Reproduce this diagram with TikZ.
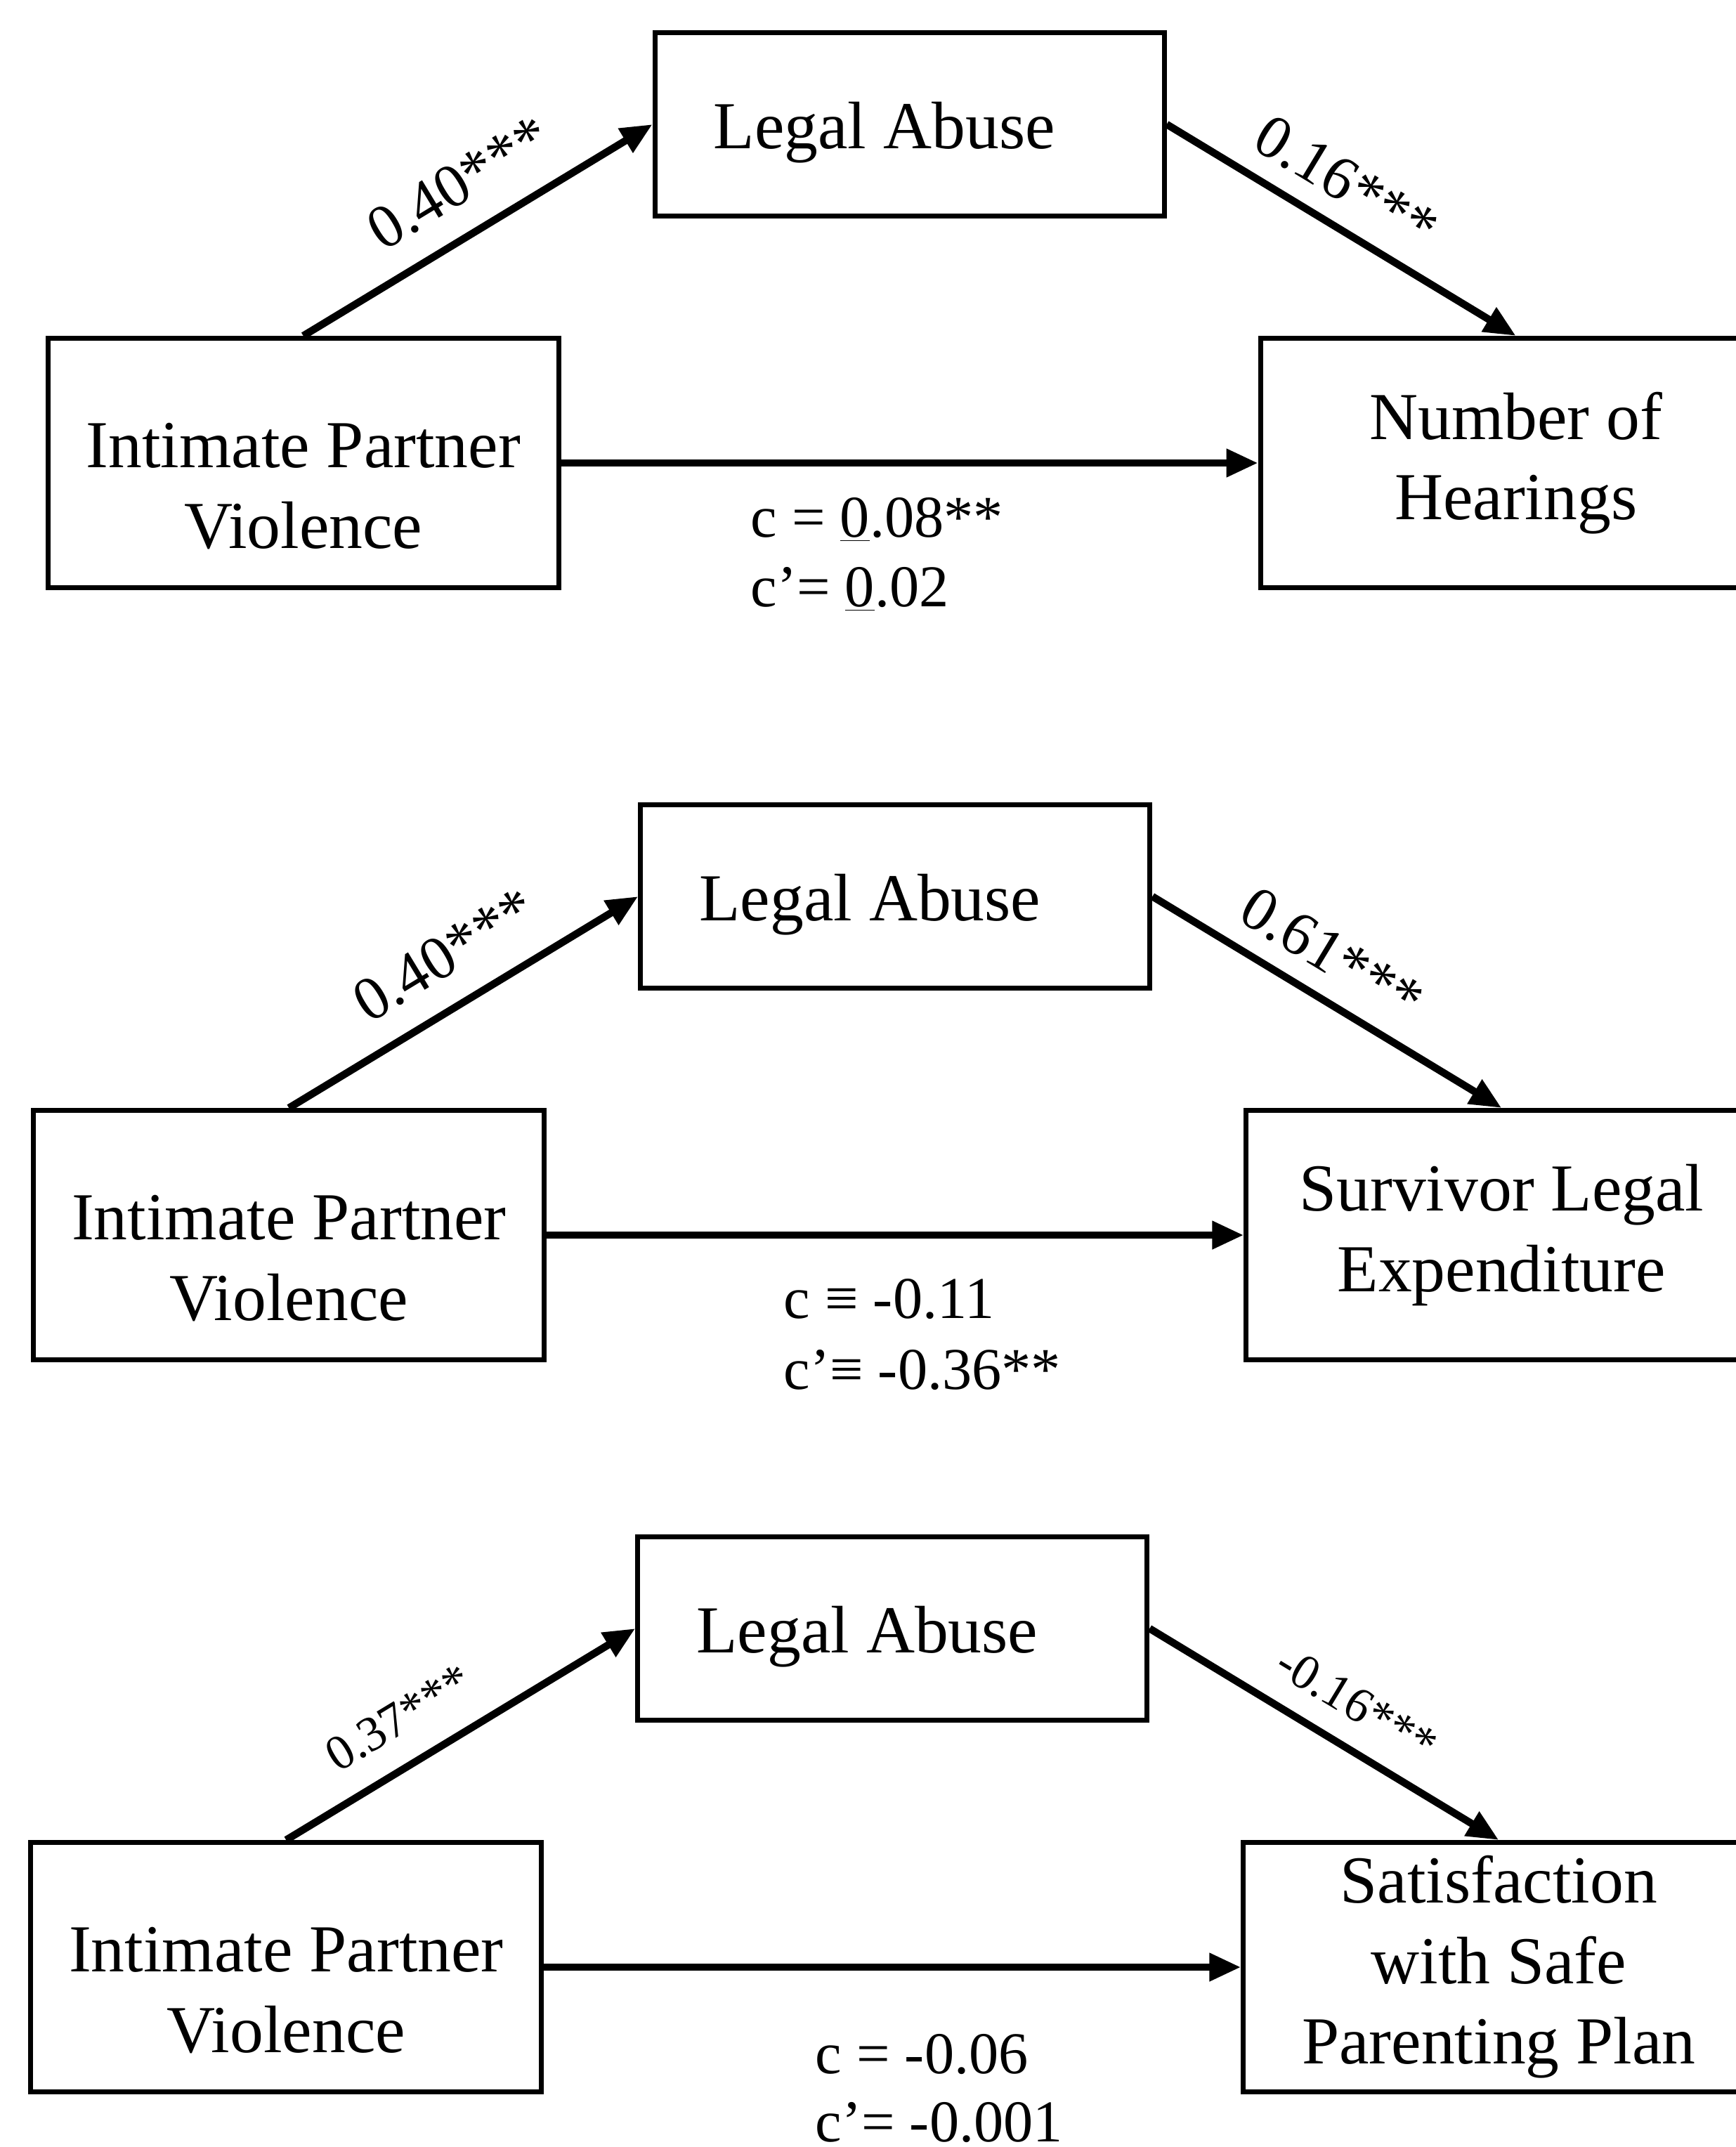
\documentclass[tikz,border=0pt]{standalone}
\usepackage{fontspec}
\setmainfont{Liberation Serif}
\usetikzlibrary{positioning, arrows.meta, calc}

\newcommand{\varfont}{\fontsize{27.2}{32.6}\selectfont}
\newcommand{\coeffont}{\fontsize{25}{30}\selectfont}
\newcommand{\smallcoeffont}{\fontsize{20}{24}\selectfont}
\newcommand{\cvalfont}{\fontsize{24}{28.7}\selectfont}

\begin{document}
\begin{tikzpicture}[
    every node/.style={font=\varfont},
    varbox/.style={draw, line width=2pt, minimum width=7.27cm, minimum height=3.55cm, inner sep=0pt, align=center},
    medbox/.style={varbox, minimum width=7.25cm, minimum height=2.61cm},
    boxtext/.style={align=center, inner sep=0pt},
    arr/.style={-{Triangle[length=4.5mm, width=3.8mm]}, line width=3pt},
    coef/.style={font=\coeffont, inner sep=2pt, sloped},
    clab/.style={font=\cvalfont, inner sep=0pt, anchor=base west},
]

\useasboundingbox (0,0) rectangle (24.71,-30.56);

% Panel 1: number of hearings
\node[varbox] (ipv1) at (4.317,-6.59) {};
\node[boxtext, yshift=-3.3mm] (ipv1txt) at (ipv1) {Intimate Partner\\Violence};
\node[varbox, right=9.92cm of ipv1] (out1) {Number of\\Hearings};
\node[medbox, above=1.67cm of $(ipv1.north)!0.5!(out1.north)$] (la1) {};
\node[boxtext, xshift=-3.6mm, yshift=-1.2mm] (la1txt) at (la1) {Legal Abuse};

\draw[arr] (ipv1.north) -- node[coef, above=3mm, pos=0.52] {0.40***} (la1.west);
\draw[arr] (la1.east) -- node[coef, above=2mm, pos=0.45] {0.16***} (out1.north);
\draw[arr] (ipv1.east) -- (out1.west);

\node[clab] (c1) at (10.68,-7.64) {c = \underline{0}.08**};
\node[clab] (cp1) at (10.68,-8.63) {c’= \underline{0}.02};

% Panel 2: legal expenditure
\node[varbox] (ipv2) at (4.113,-17.58) {};
\node[boxtext, yshift=-3.3mm] (ipv2txt) at (ipv2) {Intimate Partner\\Violence};
\node[varbox, right=9.92cm of ipv2] (out2) {Survivor Legal\\Expenditure};
\node[medbox, above=1.67cm of $(ipv2.north)!0.5!(out2.north)$] (la2) {};
\node[boxtext, xshift=-3.6mm, yshift=-1.2mm] (la2txt) at (la2) {Legal Abuse};

\draw[arr] (ipv2.north) -- node[coef, above=3mm, pos=0.52] {0.40***} (la2.west);
\draw[arr] (la2.east) -- node[coef, above=2mm, pos=0.45] {0.61***} (out2.north);
\draw[arr] (ipv2.east) -- (out2.west);

\node[clab] (c2) at (11.15,-18.76) {c ≡ -0.11};
\node[clab] (cp2) at (11.15,-19.77) {c’≡ -0.36**};

% Panel 3: safe parenting plan
\node[varbox] (ipv3) at (4.073,-28.0) {};
\node[boxtext, yshift=-3.3mm] (ipv3txt) at (ipv3) {Intimate Partner\\Violence};
\node[varbox, right=9.92cm of ipv3] (out3) {Satisfaction\\with Safe\\Parenting Plan};
\node[medbox, above=1.67cm of $(ipv3.north)!0.5!(out3.north)$] (la3) {};
\node[boxtext, xshift=-3.6mm, yshift=-1.2mm] (la3txt) at (la3) {Legal Abuse};

\draw[arr] (ipv3.north) -- node[coef, font=\smallcoeffont, above=3mm, pos=0.39] {0.37***} (la3.west);
\draw[arr] (la3.east) -- node[coef, font=\smallcoeffont, above=2.5mm, pos=0.53] {-0.16***} (out3.north);
\draw[arr] (ipv3.east) -- (out3.west);

\node[clab] (c3) at (11.60,-29.51) {c = -0.06};
\node[clab] (cp3) at (11.60,-30.48) {c’= -0.001};

\end{tikzpicture}
\end{document}
